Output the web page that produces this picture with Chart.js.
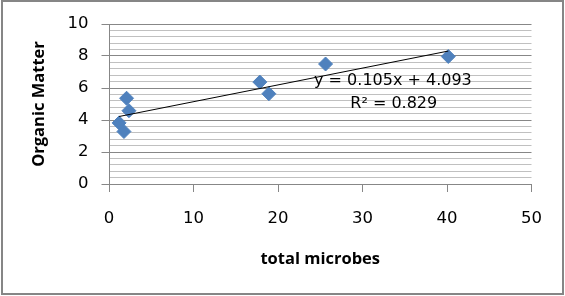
<!DOCTYPE html>
<html>
<head>
<meta charset="utf-8">
<script src="https://cdn.jsdelivr.net/npm/chart.js@4"></script>
<style>
  body { margin: 0; background: #fff; }
  canvas { display: block; }
</style>
</head>
<body>
<canvas id="microbeChart" width="565" height="296"></canvas>
<script>
// data
const totalMicrobes = [1.2, 1.77, 2.08, 2.36, 17.85, 18.92, 25.63, 40.15];
const organicMatter = [3.82, 3.28, 5.36, 4.58, 6.37, 5.64, 7.5, 7.97];
const xTicks = [0, 10, 20, 30, 40, 50];
const yTicks = [0, 2, 4, 6, 8, 10];
// linear trendline as printed on the chart
const slope = 0.105;
const intercept = 4.093;
const equationText = "y = 0.105x + 4.093";
const rSquaredText = "R\u00b2 = 0.829";

const majorGrid = "#878787";
const minorGrid = "#c0c0c0";

const points = totalMicrobes.map((x, i) => ({ x: x, y: organicMatter[i] }));
const xMin = Math.min(...totalMicrobes);
const xMax = Math.max(...totalMicrobes);
const trend = [
  { x: xMin, y: slope * xMin + intercept },
  { x: xMax, y: slope * xMax + intercept },
];

function isMajor(v) {
  return yTicks.some(t => Math.abs(t - v) < 1e-6);
}

// equation label + outer frame
const extras = {
  id: "extras",
  afterDatasetsDraw(chart) {
    const { ctx, scales } = chart;
    ctx.save();
    ctx.fillStyle = "#000";
    ctx.font = "16px 'DejaVu Sans'";
    ctx.textAlign = "center";
    ctx.textBaseline = "middle";
    ctx.fillText(equationText, scales.x.getPixelForValue(33.6), scales.y.getPixelForValue(6.42));
    ctx.fillText(rSquaredText, scales.x.getPixelForValue(33.7), scales.y.getPixelForValue(4.98));
    ctx.restore();
  },
  afterDraw(chart) {
    const ctx = chart.ctx;
    ctx.save();
    ctx.strokeStyle = "#868686";
    ctx.lineWidth = 2;
    ctx.strokeRect(2, 1, 561, 293);
    ctx.restore();
  },
};

Chart.defaults.color = "#000";

const config = {
  type: "scatter",
  data: {
    datasets: [
      {
        label: "trend",
        type: "line",
        data: trend,
        borderColor: "#000",
        borderWidth: 1,
        pointRadius: 0,
        fill: false,
        order: 0,
      },
      {
        label: "Organic Matter",
        data: points,
        pointStyle: "rectRot",
        pointRadius: 7,
        backgroundColor: "#4f81bd",
        borderColor: "#4f81bd",
        borderWidth: 1,
        order: 1,
      },
    ],
  },
  options: {
    responsive: false,
    animation: false,
    layout: { padding: { top: 24, right: 33.5, bottom: 0, left: 0 } },
    plugins: { legend: { display: false }, tooltip: { enabled: false } },
    scales: {
      x: {
        type: "linear",
        min: 0,
        max: 50,
        afterBuildTicks: scale => { scale.ticks = xTicks.map(v => ({ value: v })); },
        afterFit: scale => { scale.height = 112; },
        grid: { drawOnChartArea: false, color: majorGrid, tickLength: 8 },
        border: { color: majorGrid },
        ticks: { padding: 17, font: { family: "DejaVu Sans", size: 16.5 } },
        title: {
          display: true,
          text: "total microbes",
          font: { family: "Open Sans", size: 16.5, weight: "bold" },
          padding: { top: 0, bottom: 27 },
        },
      },
      y: {
        min: 0,
        max: 10,
        afterFit: scale => { scale.width = 109; },
        ticks: {
          stepSize: 0.4,
          autoSkip: false,
          padding: 13,
          font: { family: "DejaVu Sans", size: 16.5 },
          callback: v => (isMajor(v) ? String(Math.round(v)) : ""),
        },
        grid: {
          color: c => (isMajor(c.tick.value) ? majorGrid : minorGrid),
          tickColor: c => (isMajor(c.tick.value) ? majorGrid : "rgba(0,0,0,0)"),
          tickLength: 7.5,
        },
        border: { color: majorGrid },
        title: {
          display: true,
          text: "Organic Matter",
          font: { family: "Open Sans", size: 16.5, weight: "bold" },
          padding: { top: 29, bottom: 0 },
        },
      },
    },
  },
  plugins: [extras],
};

const microbeChart = new Chart(document.getElementById("microbeChart"), config);
</script>
</body>
</html>
